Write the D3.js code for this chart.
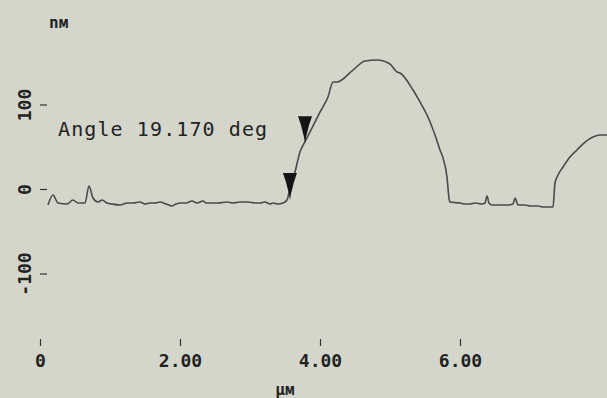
<!DOCTYPE html>
<html>
<head>
<meta charset="utf-8">
<script src="https://cdn.jsdelivr.net/npm/d3@7"></script>
<style>
  html, body { margin: 0; padding: 0; background: #d4d6cc; }
  svg { display: block; }
  text { font-family: "DejaVu Sans Mono", monospace; fill: #222; }
</style>
</head>
<body>
<div id="chart"></div>
<script>
// profile: position in µm and height in nm
var posUm = [0.114, 0.186, 0.257, 0.386, 0.471, 0.543, 0.643, 0.700, 0.757, 0.829,
    0.886, 0.957, 1.029, 1.143, 1.243, 1.329, 1.429, 1.500, 1.571, 1.643,
    1.714, 1.800, 1.886, 1.943, 2.000, 2.086, 2.171, 2.243, 2.329, 2.371,
    2.429, 2.543, 2.671, 2.757, 2.857, 2.971, 3.071, 3.143, 3.214, 3.286,
    3.329, 3.400, 3.471, 3.529, 3.557, 3.643, 3.714, 3.786, 3.857, 4.000,
    4.114, 4.186, 4.243, 4.471, 4.643, 4.814, 5.000, 5.100, 5.143, 5.329,
    5.429, 5.529, 5.643, 5.714, 5.757, 5.814, 5.843, 5.857, 6.000, 6.071,
    6.143, 6.214, 6.314, 6.357, 6.386, 6.414, 6.457, 6.571, 6.686, 6.757,
    6.786, 6.829, 6.929, 7.000, 7.114, 7.186, 7.329, 7.357, 7.400, 7.471,
    7.571, 7.671, 7.786, 7.900, 8.000, 8.100];
var heightNm = [-18.9, -7.1, -16.6, -17.8, -13.0, -16.6, -16.6, 3.6, -10.7, -15.4,
    -13.0, -16.6, -17.8, -18.9, -16.6, -16.6, -15.4, -17.8, -16.6, -16.6,
    -15.4, -17.8, -20.1, -17.8, -16.6, -16.6, -14.2, -16.6, -14.2, -16.6,
    -16.6, -16.6, -15.4, -16.6, -15.4, -15.4, -16.6, -16.6, -15.4, -17.8,
    -16.6, -17.8, -16.6, -13.0, -4.7, 20.1, 43.8, 56.0, 67.5, 91.1,
    108.9, 126.6, 126.6, 140.8, 151.5, 152.7, 147.9, 138.5, 137.3, 117.2,
    103.0, 87.6, 63.9, 46.2, 36.7, 14.2, -10.7, -15.4, -16.6, -17.8,
    -17.8, -16.6, -17.8, -16.6, -8.3, -16.6, -18.9, -18.9, -18.9, -17.8,
    -10.7, -18.9, -18.9, -20.1, -20.1, -21.3, -21.3, 7.1, 16.6, 26.0,
    37.9, 46.2, 55.6, 61.5, 63.9, 63.9];

// cursor markers
var markerUm = [3.571, 3.786];
var markerNm = [-13.0, 54.0];

var xTicks = [0, 2, 4, 6];
var xTickLabels = ["0", "2.00", "4.00", "6.00"];
var yTicks = [100, 0, -100];
var yTickLabels = ["100", "0", "-100"];

var angleText = "Angle 19.170 deg";
var yUnit = "nм";
var xUnit = "µм";

var width = 607,
    height = 398;

var svg = d3.select("#chart").append("svg")
    .attr("width", width)
    .attr("height", height);

svg.append("rect")
    .attr("width", width)
    .attr("height", height)
    .attr("fill", "#d4d6cc");

var x = d3.scaleLinear().domain([0, 8]).range([40, 600]);
var y = d3.scaleLinear().domain([-100, 100]).range([273.5, 104.5]);

// x axis: only ticks and labels, no domain line
var xAxis = svg.append("g")
    .attr("transform", "translate(0,339)")
    .call(d3.axisBottom(x)
        .tickValues(xTicks)
        .tickSize(7)
        .tickPadding(8)
        .tickFormat(function (d, i) { return xTickLabels[i]; }));
xAxis.select(".domain").remove();
xAxis.selectAll("line").attr("stroke", "#333").attr("stroke-width", 1.2);
xAxis.selectAll("text")
    .attr("font-family", "DejaVu Sans Mono, monospace")
    .attr("font-size", 18)
    .attr("font-weight", "bold")
    .attr("fill", "#222");

// y axis: short dashes right of the rotated labels
var yAxis = svg.append("g")
    .attr("transform", "translate(47,0)")
    .call(d3.axisLeft(y)
        .tickValues(yTicks)
        .tickSize(7)
        .tickFormat(function (d, i) { return yTickLabels[i]; }));
yAxis.select(".domain").remove();
yAxis.selectAll("line").attr("stroke", "#333").attr("stroke-width", 1.2);
yAxis.selectAll("text")
    .attr("font-family", "DejaVu Sans Mono, monospace")
    .attr("font-size", 18)
    .attr("font-weight", "bold")
    .attr("fill", "#222")
    .attr("x", null)
    .attr("dy", null)
    .attr("text-anchor", "middle")
    .attr("transform", "translate(-22,0) rotate(-90)")
    .attr("y", 6);

svg.append("text")
    .attr("x", 49)
    .attr("y", 28)
    .attr("font-size", 16)
    .attr("font-weight", "bold")
    .text(yUnit);

svg.append("text")
    .attr("x", 285)
    .attr("y", 395)
    .attr("text-anchor", "middle")
    .attr("font-size", 16)
    .attr("font-weight", "bold")
    .text(xUnit);

svg.append("text")
    .attr("x", 58)
    .attr("y", 136)
    .attr("font-size", 20)
    .attr("letter-spacing", 1.1)
    .text(angleText);

// monotone curve keeps the small bumps rounded like the scan
var line = d3.line()
    .curve(d3.curveMonotoneX)
    .x(function (d) { return x(d[0]); })
    .y(function (d) { return y(d[1]); });

svg.append("path")
    .datum(d3.zip(posUm, heightNm))
    .attr("d", line)
    .attr("fill", "none")
    .attr("stroke", "#4a4a4a")
    .attr("stroke-width", 1.6)
    .attr("stroke-linejoin", "round");

// inverted triangle cursors, tip on the profile
svg.selectAll(".marker")
    .data(d3.zip(markerUm, markerNm))
    .join("path")
    .attr("class", "marker")
    .attr("transform", function (d) {
        return "translate(" + x(d[0]) + "," + y(d[1]) + ")";
    })
    .attr("d", "M-7,-27 L7,-27 L4,-18 L1,-6 L0,0 L-1,-6 L-4,-18 Z")
    .attr("fill", "#151515");
</script>
</body>
</html>
